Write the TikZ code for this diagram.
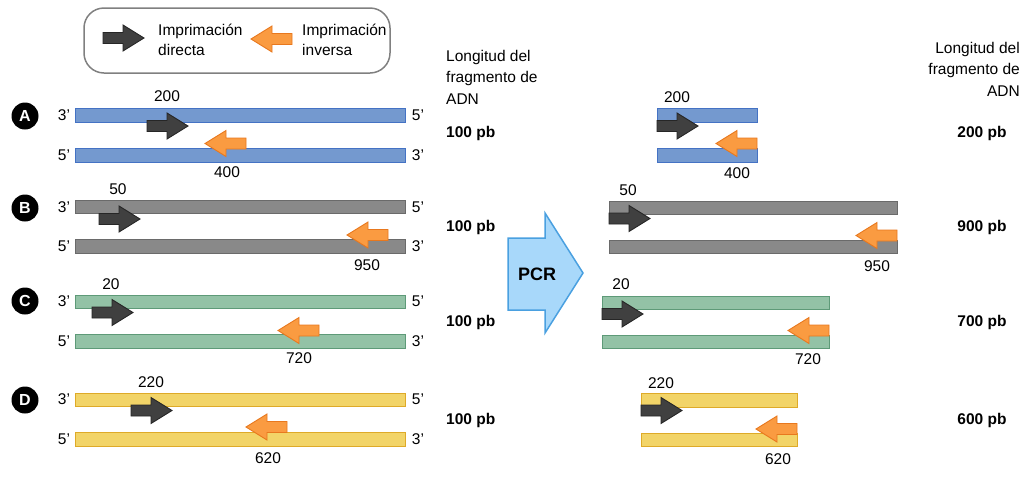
\documentclass[tikz,border=0pt]{standalone}
\usepackage{fontspec}
\setmainfont{Liberation Sans}

\definecolor{blueF}{HTML}{7499CF}
\definecolor{blueD}{HTML}{4472C4}
\definecolor{grayF}{HTML}{898989}
\definecolor{grayD}{HTML}{6A6A6A}
\definecolor{greenF}{HTML}{93C2A6}
\definecolor{greenD}{HTML}{5E9A78}
\definecolor{yellowF}{HTML}{F2D468}
\definecolor{yellowD}{HTML}{DEAA28}
\definecolor{darkF}{HTML}{404040}
\definecolor{darkD}{HTML}{262626}
\definecolor{orangeF}{HTML}{FA9B41}
\definecolor{orangeD}{HTML}{E8781E}
\definecolor{pcrF}{HTML}{A8D8FA}
\definecolor{pcrD}{HTML}{4AA0E0}

\tikzset{
  strand/.style={draw=#1D, fill=#1F, line width=0.9pt},
  fwdprimer/.style={draw=darkD, fill=darkF, line width=0.9pt},
  revprimer/.style={draw=orangeD, fill=orangeF, line width=0.9pt},
  rowmark/.style={circle, fill=black, text=white, inner sep=0pt, minimum size=27pt, font=\fontsize{16}{16}\selectfont\bfseries},
  endlabel/.style={inner sep=0pt},
  lenlabel/.style={inner sep=0pt, font=\fontsize{15.5}{20}\selectfont\bfseries},
}

% primer arrows: left edge (fwd) or right edge (rev), centre height
\newcommand{\primerF}[2]{\draw[fwdprimer] (#1,#2-5.5) -- ++(20,0) -- ++(0,-7.5) -- ++(21,13) -- ++(-21,13) -- ++(0,-7.5) -- ++(-20,0) -- cycle;}
\newcommand{\primerR}[2]{\draw[revprimer] (#1,#2-5.5) -- ++(-20,0) -- ++(0,-7.5) -- ++(-21,13) -- ++(21,13) -- ++(0,-7.5) -- ++(20,0) -- cycle;}

\begin{document}
\begin{tikzpicture}[x=1pt, y=-1pt, font=\fontsize{15.5}{20}\selectfont]
\useasboundingbox (0,0) rectangle (1024,488);

% legend
\draw[gray, line width=1.5pt, rounded corners=20pt] (84,8) rectangle (390,73);
\primerF{103}{38}
\node[anchor=west, align=left, inner sep=0pt] (legF) at (158,40) {Imprimación\\directa};
\primerR{292}{39}
\node[anchor=west, align=left, inner sep=0pt] (legR) at (302,40) {Imprimación\\inversa};

% column headings
\node[anchor=west, align=left, inner sep=0pt, font=\fontsize{15.5}{21.5}\selectfont] (headL) at (446,77) {Longitud del\\fragmento de\\ADN};
\node[anchor=east, align=right, inner sep=0pt, font=\fontsize{15.5}{21.5}\selectfont] (headR) at (1020,69) {Longitud del\\fragmento de\\ADN};

% row A
\node[rowmark] (mA) at (25,116) {A};
\draw[strand=blue] (75,108) rectangle (405,122);
\draw[strand=blue] (75,148) rectangle (405,162);
\node[endlabel] (a1) at (64,115) {3’};
\node[endlabel] (a2) at (418,115) {5’};
\node[endlabel] (a3) at (64,155) {5’};
\node[endlabel] (a4) at (418,155) {3’};
\primerF{147}{126}
\primerR{246}{143.5}
\node (nA1) at (167,96) {200};
\node (nA2) at (227,172) {400};
\node[lenlabel, anchor=west] (lA) at (446,133) {100 pb};

% row B
\node[rowmark] (mB) at (25,208) {B};
\draw[strand=gray] (75,200) rectangle (405,213);
\draw[strand=gray] (75,239) rectangle (405,253);
\node[endlabel] (b1) at (64,207) {3’};
\node[endlabel] (b2) at (418,207) {5’};
\node[endlabel] (b3) at (64,246) {5’};
\node[endlabel] (b4) at (418,246) {3’};
\primerF{99}{219}
\primerR{388}{235}
\node (nB1) at (118,189) {50};
\node (nB2) at (367,265) {950};
\node[lenlabel, anchor=west] (lB) at (446,227) {100 pb};

% row C
\node[rowmark] (mC) at (25,301) {C};
\draw[strand=green] (75,295) rectangle (405,308);
\draw[strand=green] (75,334) rectangle (405,348);
\node[endlabel] (c1) at (64,301) {3’};
\node[endlabel] (c2) at (418,301) {5’};
\node[endlabel] (c3) at (64,341) {5’};
\node[endlabel] (c4) at (418,341) {3’};
\primerF{92}{312.5}
\primerR{319}{330.5}
\node (nC1) at (111,284) {20};
\node (nC2) at (299,358) {720};
\node[lenlabel, anchor=west] (lC) at (446,322) {100 pb};

% row D
\node[rowmark] (mD) at (25,400) {D};
\draw[strand=yellow] (75,393) rectangle (405,406);
\draw[strand=yellow] (75,432) rectangle (405,446);
\node[endlabel] (d1) at (64,399) {3’};
\node[endlabel] (d2) at (418,399) {5’};
\node[endlabel] (d3) at (64,439) {5’};
\node[endlabel] (d4) at (418,439) {3’};
\primerF{131}{410.5}
\primerR{287}{427}
\node (nD1) at (151,382) {220};
\node (nD2) at (268,458) {620};
\node[lenlabel, anchor=west] (lD) at (446,420) {100 pb};

% PCR arrow
\draw[draw=pcrD, fill=pcrF, line width=1.5pt, line join=miter] (508,238) -- (545,238) -- (545,213) -- (583,273) -- (545,333) -- (545,310) -- (508,310) -- cycle;
\node[font=\fontsize{18}{18}\selectfont\bfseries] (pcr) at (537,274) {PCR};

% products A
\draw[strand=blue] (657,108) rectangle (757,122);
\draw[strand=blue] (657,148) rectangle (757,162);
\primerF{657}{126}
\primerR{757}{143.5}
\node (pA1) at (677,97) {200};
\node (pA2) at (737,173) {400};
\node[lenlabel] (rA) at (982,133) {200 pb};

% products B
\draw[strand=gray] (609,201) rectangle (897,214);
\draw[strand=gray] (609,240) rectangle (897,253);
\primerF{609}{218.5}
\primerR{897}{235.5}
\node (pB1) at (628,190) {50};
\node (pB2) at (877,266) {950};
\node[lenlabel] (rB) at (982,227) {900 pb};

% products C
\draw[strand=green] (602,296) rectangle (829,309);
\draw[strand=green] (602,335) rectangle (829,348);
\primerF{602}{314}
\primerR{829}{330.5}
\node (pC1) at (621,284) {20};
\node (pC2) at (808,359) {720};
\node[lenlabel] (rC) at (982,322) {700 pb};

% products D
\draw[strand=yellow] (641,393) rectangle (797,407);
\draw[strand=yellow] (641,433) rectangle (797,446);
\primerF{641}{410.5}
\primerR{797}{429}
\node (pD1) at (661,383) {220};
\node (pD2) at (778,459) {620};
\node[lenlabel] (rD) at (982,420) {600 pb};
\end{tikzpicture}
\end{document}
